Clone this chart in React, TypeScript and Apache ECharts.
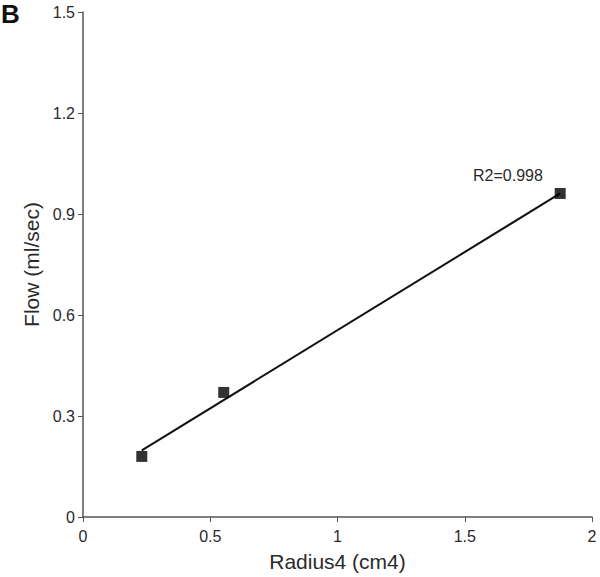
import React, { useEffect, useRef } from "react";
import * as echarts from "echarts";

const xTicks = [0, 0.5, 1, 1.5, 2];
const yTicks = [0, 0.3, 0.6, 0.9, 1.2, 1.5];
const radius4 = [0.231, 0.553, 1.875];
const flow = [0.18, 0.37, 0.961];
const trendX = [0.231, 1.875];
const trendY = [0.198, 0.961];
const r2Label = "R2=0.998";
const panelLabel = "B";

export default function App() {
  const ref = useRef<HTMLDivElement>(null);
  useEffect(() => {
    if (!ref.current) return;
    const chart = echarts.init(ref.current, undefined, { renderer: "svg" });
    const font = "Liberation Sans, Arial, sans-serif";
    chart.setOption({
      animation: false,
      backgroundColor: "#ffffff",
      grid: { left: 83, right: 8, top: 12, bottom: 55 },
      xAxis: {
        type: "value",
        min: xTicks[0],
        max: xTicks[xTicks.length - 1],
        interval: 0.5,
        name: "Radius4 (cm4)",
        nameLocation: "middle",
        nameGap: 34,
        nameTextStyle: { fontFamily: font, fontSize: 21, color: "#2a2a2a" },
        axisLine: { lineStyle: { color: "#555", width: 1.5 } },
        axisTick: { show: true, length: 5, lineStyle: { color: "#555" } },
        axisLabel: { fontFamily: font, fontSize: 16, color: "#2a2a2a", margin: 11 },
        splitLine: { show: false },
      },
      yAxis: {
        type: "value",
        min: yTicks[0],
        max: yTicks[yTicks.length - 1],
        interval: 0.3,
        name: "Flow (ml/sec)",
        nameLocation: "middle",
        nameGap: 38,
        nameTextStyle: { fontFamily: font, fontSize: 21, color: "#2a2a2a" },
        axisLine: { show: true, lineStyle: { color: "#555", width: 1.5 } },
        axisTick: { show: true, length: 5, lineStyle: { color: "#555" } },
        axisLabel: {
          fontFamily: font,
          fontSize: 16,
          color: "#2a2a2a",
          margin: 8,
          formatter: (v: number) => String(Math.round(v * 10) / 10),
        },
        splitLine: { show: false },
      },
      series: [
        {
          type: "line",
          data: trendX.map((x, i) => [x, trendY[i]]),
          showSymbol: false,
          symbol: "none",
          lineStyle: { color: "#111", width: 2 },
          z: 2,
        },
        {
          type: "scatter",
          data: radius4.map((x, i) => [x, flow[i]]),
          symbol: "rect",
          symbolSize: 11,
          itemStyle: { color: "#000" },
          z: 3,
        },
      ],
      graphic: [
        {
          type: "text",
          left: 1,
          top: 1,
          style: {
            text: panelLabel,
            fontFamily: font,
            fontSize: 26,
            fontWeight: "bold",
            fill: "#111",
          },
        },
        {
          type: "text",
          left: 473,
          top: 167,
          style: {
            text: r2Label,
            fontFamily: font,
            fontSize: 16,
            fill: "#2a2a2a",
          },
        },
      ],
    });
    return () => chart.dispose();
  }, []);
  return (
    <div
      ref={ref}
      style={{ position: "absolute", left: 0, top: 0, width: 600, height: 577 }}
    />
  );
}
